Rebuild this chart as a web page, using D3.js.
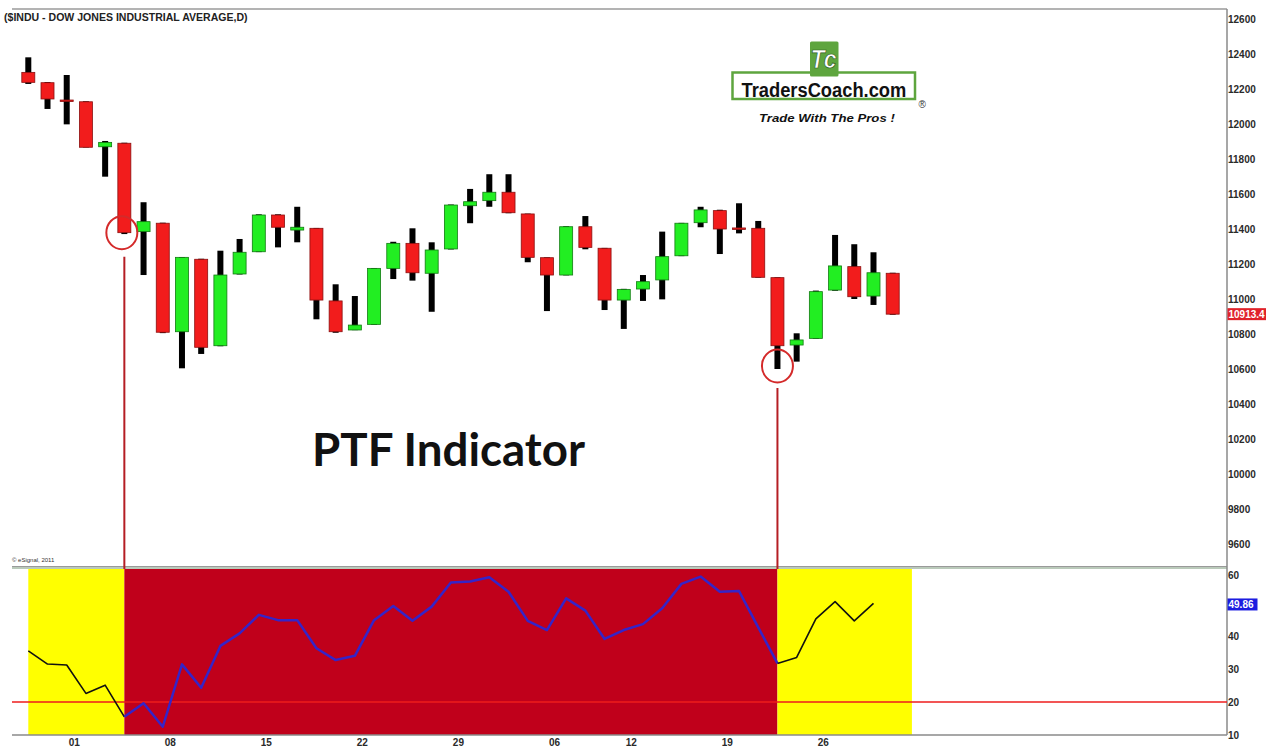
<!DOCTYPE html>
<html>
<head>
<meta charset="utf-8">
<script src="https://cdn.jsdelivr.net/npm/d3@7"></script>
<style>
  body { margin: 0; background: #fff; }
  svg { display: block; font-family: "Liberation Sans", Arial, sans-serif; }
</style>
</head>
<body>
<div id="chart"></div>
<script>
// daily bars, $INDU, late Jul - Sep 2011
const dates = [
  "2011-07-28","2011-07-29","2011-08-01","2011-08-02","2011-08-03","2011-08-04","2011-08-05",
  "2011-08-08","2011-08-09","2011-08-10","2011-08-11","2011-08-12","2011-08-15","2011-08-16",
  "2011-08-17","2011-08-18","2011-08-19","2011-08-22","2011-08-23","2011-08-24","2011-08-25",
  "2011-08-26","2011-08-29","2011-08-30","2011-08-31","2011-09-01","2011-09-02","2011-09-06",
  "2011-09-07","2011-09-08","2011-09-09","2011-09-12","2011-09-13","2011-09-14","2011-09-15",
  "2011-09-16","2011-09-19","2011-09-20","2011-09-21","2011-09-22","2011-09-23","2011-09-26",
  "2011-09-27","2011-09-28","2011-09-29","2011-09-30"
];
const opens  = [12295,12236,12137,12127,11870,11890,11385,11433,10813,11227,10733,11143,11270,11480,
                11394,11404,10989,10823,10855,11175,11318,11147,11286,11533,11562,11610,11486,11236,
                11137,11413,11290,10994,11057,11109,11247,11436,11505,11406,11404,11122,10737,10775,
                11051,11185,11017,11147];
const highs  = [12381,12240,12280,12130,11903,11893,11553,11436,11240,11230,11276,11343,11484,11484,
                11527,11406,11084,11017,11177,11327,11404,11324,11540,11629,11713,11713,11488,11238,
                11416,11474,11292,11058,11137,11385,11435,11527,11510,11547,11446,11124,10804,11048,
                11366,11313,11267,11150];
const lows   = [12229,12086,11998,11866,11699,11371,11137,10805,10604,10686,10730,11140,11268,11295,
                11324,10884,10807,10822,10853,11114,11105,10927,11283,11433,11527,11490,11210,10931,
                11135,11284,10937,10829,10989,10998,11245,11410,11257,11375,11122,10600,10642,10773,
                11047,11000,10966,10910];
const closes = [12238,12143,12132,11867,11895,11379,11442,10810,11238,10724,11137,11267,11480,11410,
                11410,10994,10813,10851,11175,11318,11150,11280,11537,11556,11610,11493,11238,11137,
                11413,11295,10994,11055,11099,11242,11433,11509,11400,11402,11124,10733,10766,11042,
                11189,11013,11150,10913.4];

// PTF indicator (last bar not plotted)
const ptf = [35.5,31.5,31.2,22.6,25.1,15.5,19.6,12.5,31.4,24.3,37.0,40.8,46.4,44.8,44.8,36.3,32.7,
             34.0,44.8,49.1,44.6,48.9,56.2,56.5,57.8,53.4,44.6,41.8,51.4,47.7,39.1,41.8,43.6,48.4,
             55.8,58.0,53.4,53.6,42.6,31.7,33.5,45.2,50.4,44.6,49.86];
// state per bar: Y = yellow, R = red
const ptfZone = "YYYYYRRRRRRRRRRRRRRRRRRRRRRRRRRRRRRRRRRYYYYYYY".split("");
const ptfLevel = 20;

const priceTicks = d3.range(9600, 12601, 200);
const ptfTicks = [10, 20, 30, 40, 60]; // 50 sits under the last-value tag
const dateTicks = ["2011-08-01","2011-08-08","2011-08-15","2011-08-22","2011-08-29",
                   "2011-09-06","2011-09-12","2011-09-19","2011-09-26"];
const signalDates = ["2011-08-04", "2011-09-22"];

const W = 1266, H = 747;
const left = 12, axisX = 1227;
const priceTop = 9, priceBottom = 566;
const indTop = 569, indBottom = 735;

const svg = d3.select("#chart").append("svg")
    .attr("width", W).attr("height", H);

const x = d3.scalePoint().domain(dates).range([28.3, 892.7]);
const step = x.step();
const y = d3.scaleLinear().domain([9600, 12600]).range([544, 19]);
const yInd = d3.scaleLinear().domain([10, 60]).range([indBottom, 570]);

// squeeze a text horizontally to a given width
const fitWidth = (sel, x0, y0, w) => {
    const natural = sel.node().getComputedTextLength();
    sel.attr("x", 0).attr("y", 0)
        .attr("transform", `translate(${x0},${y0}) scale(${w / natural},1)`);
};

// ---- indicator background zones (merged into runs so no seams)
const zoneRuns = [];
ptfZone.forEach((z, i) => {
    if (!zoneRuns.length || zoneRuns[zoneRuns.length - 1].zone !== z) zoneRuns.push({ zone: z, from: i, to: i });
    zoneRuns[zoneRuns.length - 1].to = i;
});
svg.append("g").selectAll("rect")
    .data(zoneRuns)
    .join("rect")
    .attr("x", r => x(dates[r.from]))
    .attr("y", indTop)
    .attr("width", r => x(dates[r.to]) + step - x(dates[r.from]))
    .attr("height", indBottom - indTop)
    .attr("fill", r => r.zone === "R" ? "#c0001b" : "#ffff00");

// frame lines
svg.append("line").attr("x1", left).attr("x2", axisX).attr("y1", priceTop).attr("y2", priceTop)
    .attr("stroke", "#9a9a9a").attr("stroke-width", 1.5);
svg.append("line").attr("x1", left).attr("x2", axisX).attr("y1", priceBottom + 0.5).attr("y2", priceBottom + 0.5)
    .attr("stroke", "#9a9a9a").attr("stroke-width", 1);
svg.append("line").attr("x1", left).attr("x2", axisX).attr("y1", indTop - 1).attr("y2", indTop - 1)
    .attr("stroke", "#a3b8a3").attr("stroke-width", 1.5);
svg.append("line").attr("x1", left).attr("x2", axisX).attr("y1", indBottom).attr("y2", indBottom)
    .attr("stroke", "#8a8a8a").attr("stroke-width", 1.5);
svg.append("line").attr("x1", axisX).attr("x2", axisX).attr("y1", priceTop).attr("y2", indBottom)
    .attr("stroke", "#8a8a8a").attr("stroke-width", 1.5);

// 20 level
svg.append("line")
    .attr("x1", left).attr("x2", axisX)
    .attr("y1", yInd(ptfLevel)).attr("y2", yInd(ptfLevel))
    .attr("stroke", "#ee1c1c").attr("stroke-width", 1.5);

// indicator line, split into runs by zone colour
const runs = [];
for (let i = 0; i < ptf.length - 1; i++) {
    const c = ptfZone[i];
    if (!runs.length || runs[runs.length - 1].zone !== c) runs.push({ zone: c, idx: [i] });
    runs[runs.length - 1].idx.push(i + 1);
}
const ptfLine = d3.line().x(i => x(dates[i])).y(i => yInd(ptf[i]));
svg.append("g").selectAll("path")
    .data(runs)
    .join("path")
    .attr("d", r => ptfLine(r.idx))
    .attr("fill", "none")
    .attr("stroke", r => r.zone === "R" ? "#3524c8" : "#111")
    .attr("stroke-width", r => r.zone === "R" ? 2.5 : 1.6)
    .attr("stroke-linejoin", "round");

// ---- candles
const bars = dates.map((d, i) => ({ d, o: opens[i], h: highs[i], l: lows[i], c: closes[i] }));
const candles = svg.append("g").selectAll("g")
    .data(bars)
    .join("g");

candles.append("rect")
    .attr("x", b => x(b.d) - 3)
    .attr("width", 6)
    .attr("y", b => y(b.h))
    .attr("height", b => y(b.l) - y(b.h))
    .attr("fill", "#000");

candles.append("rect")
    .attr("x", b => x(b.d) - 6.5)
    .attr("width", 13)
    .attr("y", b => y(Math.max(b.o, b.c)))
    .attr("height", b => Math.max(1.5, Math.abs(y(b.o) - y(b.c))))
    .attr("fill", b => b.c < b.o ? "#f21c1c" : "#22ee22")
    .attr("stroke", b => b.c < b.o ? "#8a1010" : "#127a12")
    .attr("stroke-width", 0.8);

// ---- signal markers
const s0 = signalDates[0], s1 = signalDates[1];
const i0 = dates.indexOf(s0), i1 = dates.indexOf(s1);
const marks = [
    { x: x(s0), cx: x(s0) - 2.5, cy: y(closes[i0]), top: y(closes[i0]) + 24 },
    { x: x(s1), cx: x(s1), cy: y(lows[i1]) - 3, top: y(lows[i1]) + 19 }
];
svg.append("g").selectAll("line")
    .data(marks)
    .join("line")
    .attr("x1", m => m.x).attr("x2", m => m.x)
    .attr("y1", m => m.top).attr("y2", indTop)
    .attr("stroke", "#b51e24").attr("stroke-width", 2);
svg.append("g").selectAll("ellipse")
    .data(marks)
    .join("ellipse")
    .attr("cx", m => m.cx).attr("cy", m => m.cy)
    .attr("rx", 15.5).attr("ry", 16.5)
    .attr("fill", "none")
    .attr("stroke", "#d42a2a").attr("stroke-width", 2);

// ---- axes
const styleAxis = g => {
    g.select(".domain").remove();
    g.selectAll("text")
        .attr("font-family", "'Liberation Sans', Arial, sans-serif")
        .attr("font-size", 10)
        .attr("font-weight", "bold")
        .attr("fill", "#2a2a2a");
};

svg.append("g")
    .attr("transform", `translate(${axisX},0)`)
    .call(d3.axisRight(y).tickValues(priceTicks).tickSize(0).tickPadding(1).tickFormat(d3.format("d")))
    .call(styleAxis);

svg.append("g")
    .attr("transform", `translate(${axisX},0)`)
    .call(d3.axisRight(yInd).tickValues(ptfTicks).tickSize(0).tickPadding(1)
        .tickFormat(d => d))
    .call(styleAxis)
    .call(g => g.selectAll(".tick").filter(d => d === 60).select("text").attr("dy", "0.85em"));

svg.append("g")
    .attr("transform", `translate(0,${indBottom})`)
    .call(d3.axisBottom(x).tickValues(dateTicks).tickSize(0).tickPadding(4)
        .tickFormat(d => d.slice(8)))
    .call(styleAxis)
    .call(g => g.selectAll("text").attr("dx", 7));

// last value tags
const tag = (yy, fill, label) => {
    svg.append("rect")
        .attr("x", axisX + 0.5).attr("y", yy - 6)
        .attr("width", label.length * 5.6 + 2).attr("height", 12)
        .attr("fill", fill);
    svg.append("text")
        .attr("x", axisX + 1.5).attr("y", yy).attr("dy", "0.35em")
        .attr("font-size", 10).attr("font-weight", "bold").attr("fill", "#fff")
        .text(label);
};
tag(y(closes[closes.length - 1]), "#e0222a", d3.format(".1f")(closes[closes.length - 1]));
tag(yInd(ptf[ptf.length - 1]) + 1, "#1c1ce0", d3.format(".2f")(ptf[ptf.length - 1]));

// ---- texts
svg.append("text")
    .attr("font-size", 10.5).attr("font-weight", "bold").attr("fill", "#222")
    .text("($INDU - DOW JONES INDUSTRIAL AVERAGE,D)")
    .call(fitWidth, 4, 21, 244);

svg.append("text")
    .attr("x", 12).attr("y", 562)
    .attr("font-size", 6).attr("fill", "#333")
    .text("© eSignal, 2011");

svg.append("text")
    .attr("font-family", "Lato, 'Open Sans', sans-serif")
    .attr("font-size", 45).attr("font-weight", "bold").attr("fill", "#111")
    .text("PTF Indicator")
    .call(fitWidth, 312, 465.5, 273);

// ---- logo
const logo = svg.append("g");
logo.append("rect")
    .attr("x", 732.5).attr("y", 72.5).attr("width", 182.5).attr("height", 26.5)
    .attr("fill", "#fff").attr("stroke", "#5ea53e").attr("stroke-width", 2.5);
logo.append("rect")
    .attr("x", 810).attr("y", 41.5).attr("width", 28.5).attr("height", 35)
    .attr("rx", 1.5)
    .attr("fill", "#5ea53e");
logo.append("text")
    .attr("font-size", 25).attr("font-weight", "bold").attr("font-style", "italic")
    .attr("fill", "#fff").attr("stroke", "#2d5a1c").attr("stroke-width", 0.7)
    .text("Tc")
    .call(fitWidth, 810.5, 68, 26);
logo.append("text")
    .attr("font-family", "'Liberation Sans Narrow', 'Arial Narrow', 'Liberation Sans', sans-serif")
    .attr("font-size", 21).attr("font-weight", "bold").attr("fill", "#111")
    .text("TradersCoach.com")
    .call(fitWidth, 741.5, 96.5, 165);
logo.append("text")
    .attr("x", 918.5).attr("y", 107.5)
    .attr("font-size", 10).attr("fill", "#333")
    .text("®");
logo.append("text")
    .attr("font-size", 10.5).attr("font-weight", "bold").attr("font-style", "italic").attr("fill", "#111")
    .text("Trade With The Pros !")
    .call(fitWidth, 759, 121.5, 136);
</script>
</body>
</html>
